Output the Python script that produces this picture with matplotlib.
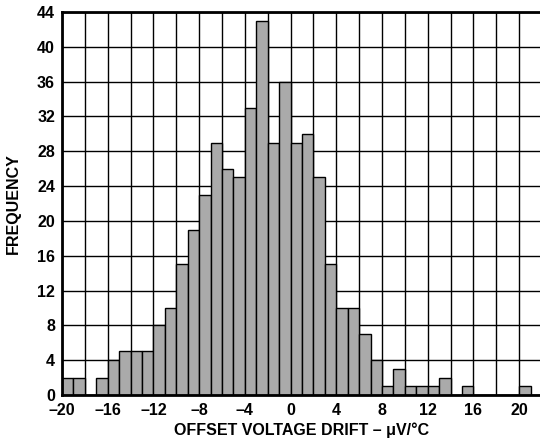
import numpy as np
import matplotlib.pyplot as plt

plt.rcParams['font.family'] = ['Liberation Sans', 'DejaVu Sans']

# histogram bins (1 uV/C wide) and counts
bin_edges = list(range(-20, 23))
counts = [2, 2, 0, 2, 4, 5, 5, 5, 8, 10, 15, 19, 23, 29, 26, 25, 33, 43, 29, 36,
          29, 30, 25, 15, 10, 10, 7, 4, 1, 3, 1, 1, 1, 2, 0, 1, 0, 0, 0, 0, 1, 0]
x_ticks = list(range(-20, 21, 4))
y_ticks = list(range(0, 45, 4))

fig = plt.figure(figsize=(5.4, 4.42), dpi=100)
ax = fig.add_axes([0.1148, 0.1063, 0.889, 0.8665])

lefts = np.array(bin_edges[:-1])
ax.bar(lefts, counts, width=1.0, align='edge', color='#aaaaaa',
       edgecolor='black', linewidth=1.0, zorder=3)

ax.set_xlim(-20, 22)
ax.set_ylim(0, 44)
ax.set_xticks(range(-20, 23, 2), minor=True)
ax.set_xticks(x_ticks)
ax.set_xticklabels(['\u2013' + str(abs(t)) if t < 0 else str(t) for t in x_ticks])
ax.set_yticks(y_ticks)
ax.grid(True, which='both', axis='x', color='black', linewidth=1.0, zorder=0)
ax.grid(True, which='major', axis='y', color='black', linewidth=1.0, zorder=0)
ax.tick_params(which='both', length=0, labelsize=11.5)
ax.tick_params(axis='x', pad=6)
ax.tick_params(axis='y', pad=5)
for lab in ax.get_xticklabels() + ax.get_yticklabels():
    lab.set_fontweight('bold')

for s in ['top', 'left', 'bottom']:
    ax.spines[s].set_linewidth(2)
    ax.spines[s].set_zorder(4)
ax.spines['right'].set_visible(False)

ax.set_xlabel('OFFSET VOLTAGE DRIFT \u2013 \u03bcV/\u00b0C', fontsize=11.5,
              fontweight='bold', labelpad=3)
ax.set_ylabel('FREQUENCY', fontsize=11.5, fontweight='bold', labelpad=12)

fig.savefig('out.png', dpi=100)
